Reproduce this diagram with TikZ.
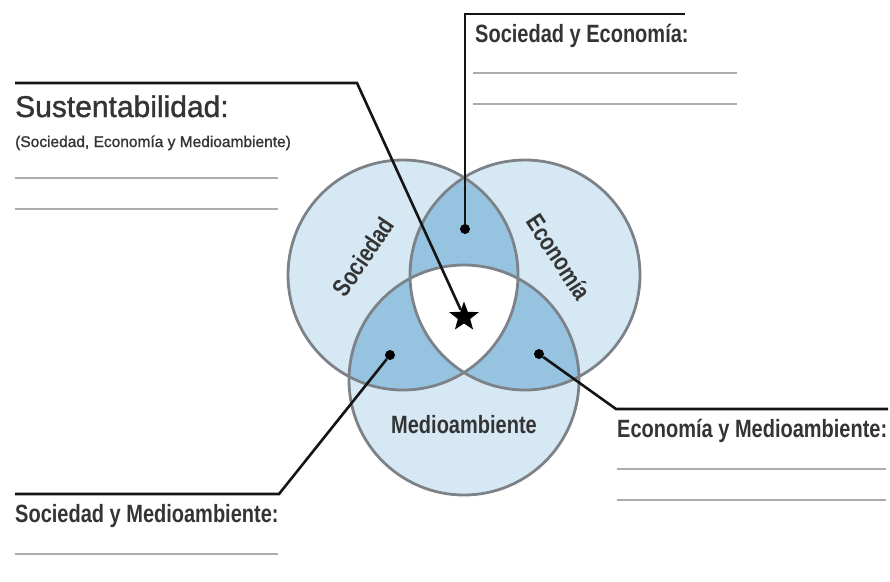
\documentclass[tikz,border=0pt]{standalone}
\usepackage{fontspec}
\setmainfont{Liberation Sans}
\newfontfamily\narrowfont{Liberation Sans}[FakeStretch=0.8]
\newfontfamily\titlefont{Liberation Sans}[FakeBold=1.2]
\usepackage{tikz}
\usetikzlibrary{shapes.geometric}
\definecolor{light_blue}{RGB}{213,232,243}
\definecolor{mid_blue}{RGB}{150,196,224}
\definecolor{circle_gray}{RGB}{125,130,136}
\definecolor{rule_gray}{RGB}{172,172,172}
\definecolor{text_gray}{RGB}{52,52,52}

\begin{document}
\begin{tikzpicture}[x=1pt,y=-1pt,
    leader/.style={line width=2.6pt, black!92},
    blank_line/.style={line width=1.1pt, rule_gray},
    point_dot/.style={circle, fill=black, inner sep=0pt, minimum size=10pt},
    heading_text/.style={anchor=base west, inner sep=0pt, text=text_gray, font=\narrowfont\bfseries\fontsize{25}{30}\selectfont},
    circle_name/.style={inner sep=0pt, text=text_gray, font=\narrowfont\bfseries\fontsize{25}{30}\selectfont}]

    \useasboundingbox (0,0) rectangle (890,581);

    % Centres des trois cercles
    \coordinate (S) at (403,275);
    \coordinate (E) at (525,275);
    \coordinate (M) at (464,380);

    % Remplissage des cercles et des intersections
    \fill[light_blue] (S) circle (115pt) (E) circle (115pt) (M) circle (115pt);
    \begin{scope}
        \clip (S) circle (115pt);
        \fill[mid_blue] (E) circle (115pt) (M) circle (115pt);
    \end{scope}
    \begin{scope}
        \clip (E) circle (115pt);
        \fill[mid_blue] (M) circle (115pt);
    \end{scope}
    \begin{scope}
        \clip (S) circle (115pt);
        \clip (E) circle (115pt);
        \fill[white] (M) circle (115pt);
    \end{scope}
    \draw[circle_gray, line width=2.8pt] (S) circle (115pt) (E) circle (115pt) (M) circle (115pt);

    % Noms des cercles
    \node[circle_name, rotate=56] (nomS) at (363,257) {Sociedad};
    \node[circle_name, rotate=-57] (nomE) at (559,257) {Economía};
    \node[circle_name] (nomM) at (464,425) {Medioambiente};

    % Points et étoile
    \node[point_dot] (ptSE) at (465,229) {};
    \node[point_dot] (ptSM) at (390,355) {};
    \node[point_dot] (ptEM) at (539,354) {};
    \node[star, star points=5, star point ratio=2.4, fill=black, inner sep=0pt, minimum size=31pt] (etoile) at (464,317) {};

    % Coins des traits de rappel
    \coordinate (K0) at (15,83);
    \coordinate (K1) at (357,83);
    \coordinate (T1) at (465,14);
    \coordinate (T2) at (685,14);
    \coordinate (L1) at (279,494);
    \coordinate (L0) at (15,494);
    \coordinate (R1) at (616,409);
    \coordinate (R2) at (888,409);

    \draw[leader] (K0) -- (K1) -- (etoile);
    \draw[leader] (ptSE) -- (T1) -- (T2);
    \draw[leader] (ptSM) -- (L1) -- (L0);
    \draw[leader] (ptEM) -- (R1) -- (R2);

    % Textes
    \node[anchor=base west, inner sep=0pt, text=text_gray, font=\titlefont\fontsize{30}{36}\selectfont] (titre) at (15,117) {Sustentabilidad:};
    \node[anchor=base west, inner sep=0pt, text=text_gray, font=\titlefont\fontsize{15.5}{18}\selectfont] (sous_titre) at (15,147) {(Sociedad, Economía y Medioambiente)};
    \node[heading_text] (labSE) at (475,42) {Sociedad y Economía:};
    \node[heading_text] (labSM) at (15,522) {Sociedad y Medioambiente:};
    \node[heading_text] (labEM) at (617,437) {Economía y Medioambiente:};

    % Lignes à remplir
    \draw[blank_line] (15,178) -- (278,178) (15,209) -- (278,209);
    \draw[blank_line] (473,73) -- (737,73) (473,104) -- (737,104);
    \draw[blank_line] (15,554) -- (278,554);
    \draw[blank_line] (617,469) -- (886,469) (617,500) -- (886,500);
\end{tikzpicture}
\end{document}
